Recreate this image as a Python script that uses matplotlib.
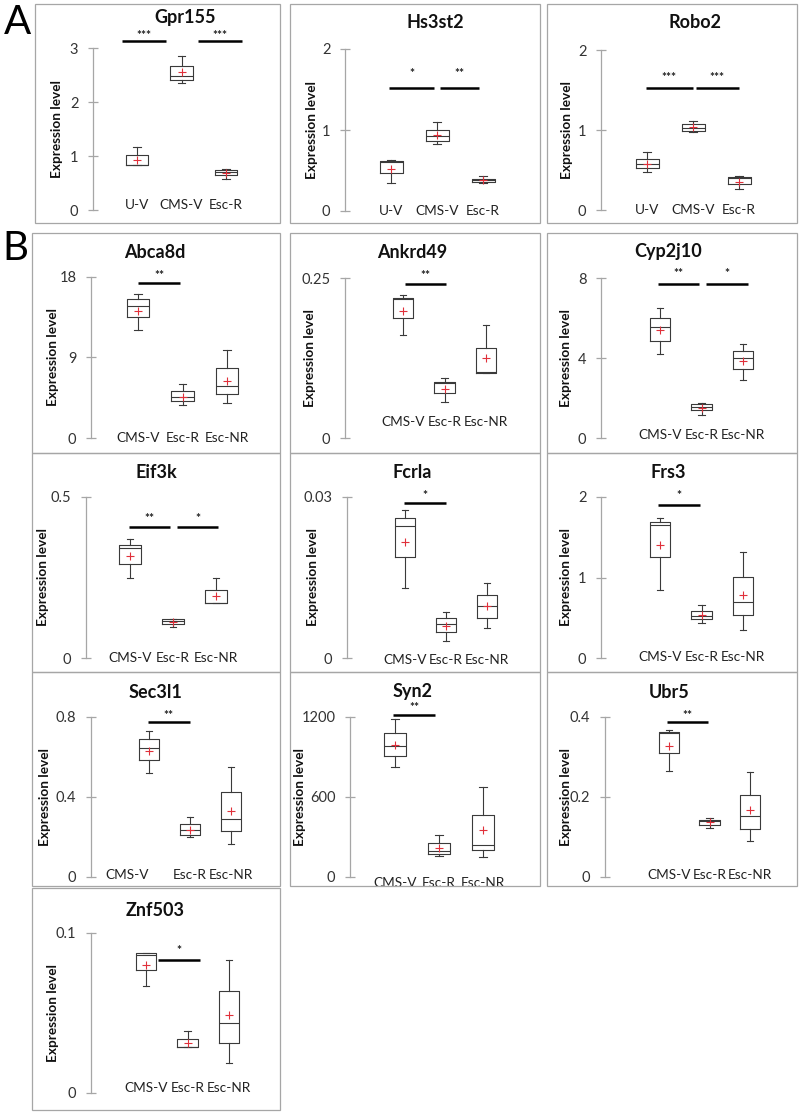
import matplotlib
matplotlib.use('Agg')
import matplotlib.pyplot as plt
from matplotlib.patches import Rectangle

plt.rcParams['font.family'] = ['Lato', 'DejaVu Sans']

W, H = 799, 1116

genes = ['Gpr155', 'Hs3st2', 'Robo2', 'Abca8d', 'Ankrd49', 'Cyp2j10', 'Eif3k',
         'Fcrla', 'Frs3', 'Sec3l1', 'Syn2', 'Ubr5', 'Znf503']
groups_A = ['U-V', 'CMS-V', 'Esc-R']
groups_B = ['CMS-V', 'Esc-R', 'Esc-NR']

y_ticks = [[0, 1, 2, 3], [0, 1, 2], [0, 1, 2], [0, 9, 18], [0, 0.25], [0, 4, 8],
           [0, 0.5], [0, 0.03], [0, 1, 2], [0, 0.4, 0.8], [0, 600, 1200],
           [0, 0.2, 0.4], [0, 0.1]]

whis_lo = [[0.83, 2.35, 0.58], [0.35, 0.83, 0.35], [0.48, 0.97, 0.26],
           [12.1, 3.7, 3.88], [0.161, 0.057, 0.101], [4.18, 1.15, 2.89],
           [0.250, 0.095, 0.170], [0.0131, 0.0032, 0.0056], [0.84, 0.44, 0.35],
           [0.518, 0.200, 0.165], [825, 160, 150], [0.264, 0.1225, 0.091],
           [0.067, 0.029, 0.019]]
q1 = [[0.83, 2.41, 0.64], [0.47, 0.87, 0.36], [0.52, 0.99, 0.33],
      [13.5, 4.14, 4.93], [0.188, 0.070, 0.101], [4.85, 1.39, 3.44],
      [0.293, 0.107, 0.170], [0.0188, 0.0048, 0.0075], [1.25, 0.48, 0.53],
      [0.583, 0.212, 0.228], [905, 175, 200], [0.31, 0.131, 0.121],
      [0.077, 0.029, 0.031]]
median = [[0.84, 2.48, 0.70], [0.60, 0.92, 0.38], [0.57, 1.03, 0.40],
          [14.8, 4.63, 5.86], [0.2175, 0.0856, 0.103], [5.54, 1.56, 4.02],
          [0.342, 0.114, 0.170], [0.0246, 0.0063, 0.0096], [1.65, 0.52, 0.69],
          [0.647, 0.233, 0.292], [985, 192, 242], [0.36, 0.139, 0.152],
          [0.086, 0.029, 0.044]]
q3 = [[1.01, 2.67, 0.74], [0.62, 1.00, 0.40], [0.64, 1.07, 0.41],
      [15.5, 5.3, 7.8], [0.219, 0.088, 0.141], [6.0, 1.68, 4.33],
      [0.351, 0.121, 0.211], [0.0260, 0.0074, 0.0117], [1.69, 0.59, 1.01],
      [0.69, 0.265, 0.423], [1080, 255, 462], [0.362, 0.143, 0.206],
      [0.0875, 0.034, 0.064]]
whis_hi = [[1.16, 2.85, 0.76], [0.63, 1.10, 0.43], [0.73, 1.11, 0.43],
           [16.1, 6.0, 9.85], [0.224, 0.094, 0.177], [6.5, 1.73, 4.68],
           [0.370, 0.121, 0.250], [0.0275, 0.0086, 0.0139], [1.74, 0.66, 1.32],
           [0.732, 0.30, 0.55], [1185, 312, 675], [0.367, 0.1475, 0.2625],
           [0.0875, 0.039, 0.083]]
means = [[0.93, 2.56, 0.68], [0.52, 0.94, 0.38], [0.58, 1.04, 0.35],
         [14.25, 4.6, 6.4], [0.199, 0.076, 0.1255], [5.38, 1.48, 3.83],
         [0.316, 0.112, 0.194], [0.0216, 0.0059, 0.0096], [1.40, 0.535, 0.78],
         [0.628, 0.237, 0.328], [988, 218, 352], [0.328, 0.1375, 0.167],
         [0.080, 0.031, 0.049]]

# significance bars: (x start, x end, bar y, star y, label)
sig = [
    [(-0.33, 0.65, 3.13, 3.24, '***'), (1.37, 2.35, 3.13, 3.24, '***')],
    [(-0.04, 0.94, 1.52, 1.70, '*'), (1.06, 1.92, 1.52, 1.70, '**')],
    [(-0.02, 0.99, 1.525, 1.66, '***'), (1.07, 1.99, 1.525, 1.66, '***')],
    [(0.0, 0.95, 17.3, 18.2, '**')],
    [(0.06, 1.04, 0.241, 0.254, '**')],
    [(-0.04, 0.95, 7.7, 8.2, '**'), (1.12, 2.12, 7.7, 8.2, '*')],
    [(-0.02, 0.94, 0.407, 0.433, '**'), (1.1, 2.05, 0.407, 0.433, '*')],
    [(-0.02, 1.0, 0.0288, 0.0302, '*')],
    [(-0.04, 0.97, 1.90, 2.02, '*')],
    [(-0.03, 0.99, 0.775, 0.81, '**')],
    [(-0.04, 0.91, 1218, 1272, '**')],
    [(-0.04, 0.97, 0.3875, 0.404, '**')],
    [(0.3, 1.3, 0.083, 0.089, '*')],
]

# layout in pixels: panel box, axis x, first box x, spacing, top tick y, zero y,
# title x, title y, category label offset, y-label distance from axis
layout = {
    'Gpr155':  ((35, 4, 280, 223), 93, 137, 44.5, 48, 210, 185, 18, 5, 36),
    'Hs3st2':  ((290, 4, 540, 223), 345, 391, 46, 49, 211, 435, 23, 0, 33),
    'Robo2':   ((547, 4, 797, 223), 601, 647, 46, 50, 210, 695, 23, 0, 34),
    'Abca8d':  ((32, 233, 280, 453), 91, 138, 44.5, 277, 438, 155, 252, 0, 38),
    'Ankrd49': ((290, 233, 540, 453), 345, 403, 41.5, 278, 438, 412, 252, 16, 35),
    'Cyp2j10': ((547, 233, 797, 453), 601, 660, 41.5, 278, 438, 668, 252, 3, 35),
    'Eif3k':   ((32, 453, 280, 672), 86, 130, 43, 497, 658, 156, 472, 0, 43),
    'Fcrla':   ((290, 453, 540, 672), 347, 405, 41, 497, 658, 412, 472, -2, 34),
    'Frs3':    ((547, 453, 797, 672), 601, 660, 41.5, 497, 658, 668, 472, 1, 35),
    'Sec3l1':  ((32, 672, 280, 886), 91, 149, 41, 717, 877, 155, 692, 2, 46),
    'Syn2':    ((290, 672, 540, 886), 350, 395, 44, 717, 877, 413, 692, -6, 50),
    'Ubr5':    ((547, 672, 797, 886), 605, 669, 40.5, 717, 877, 669, 692, 2, 39),
    'Znf503':  ((32, 888, 280, 1110), 91, 146, 41.5, 933, 1093, 155, 910, 5, 38),
}

GRAY = '#a6a6a6'
BOXC = '#3a3a3a'


def fx(px):
    return px / W


def fy(py):
    return 1 - py / H


fig = plt.figure(figsize=(W / 100, H / 100), dpi=100)

for k, g in enumerate(genes):
    box, axx, c0, sp, yt, y0, tx, ty, loff, ylx = layout[g]
    x0p, y0p, x1p, y1p = box
    fig.patches.append(Rectangle((fx(x0p), fy(y1p)), fx(x1p - x0p), (y1p - y0p) / H,
                                 transform=fig.transFigure, fill=False,
                                 edgecolor=GRAY, lw=0.9))
    right = x1p - 3
    ax = fig.add_axes([fx(axx), fy(y0), fx(right - axx), (y0 - yt) / H])
    ax.patch.set_alpha(0)
    ax.set_xlim((axx - c0) / sp, (right - c0) / sp)
    ymax = y_ticks[k][-1]
    ax.set_ylim(0, ymax)

    stats = []
    for i in range(3):
        stats.append(dict(whislo=whis_lo[k][i], q1=q1[k][i], med=median[k][i],
                          q3=q3[k][i], whishi=whis_hi[k][i], mean=means[k][i]))
    ax.bxp(stats, positions=[0, 1, 2], widths=0.5, showmeans=True, showfliers=False,
           manage_ticks=False, capwidths=0.16,
           boxprops=dict(color=BOXC, lw=0.8),
           whiskerprops=dict(color=BOXC, lw=0.8),
           capprops=dict(color=BOXC, lw=0.8),
           medianprops=dict(color=BOXC, lw=0.8),
           meanprops=dict(marker='+', markeredgecolor='#e0303a', markersize=6,
                          markeredgewidth=0.8))

    for s in ['top', 'right', 'bottom']:
        ax.spines[s].set_visible(False)
    ax.spines['left'].set_color(GRAY)
    ax.spines['left'].set_linewidth(0.9)
    ax.set_xticks([])
    ax.set_yticks(y_ticks[k], ['{:g}'.format(v) for v in y_ticks[k]])
    ax.tick_params(axis='y', direction='inout', length=7, width=0.9, color=GRAY,
                   labelcolor='#333333', labelsize=10.5, pad=7)

    groups = groups_A if k < 3 else groups_B
    for i, name in enumerate(groups):
        dx = -0.54 if (g == 'Sec3l1' and i == 0) else 0
        ax.annotate(name, (i + dx, 0), xytext=(0, loff * 0.72), textcoords='offset points',
                    ha='center', va='center', fontsize=9.8, color='#222222',
                    annotation_clip=False)

    for (sx0, sx1, sy, stary, lab) in sig[k]:
        ax.plot([sx0, sx1], [sy, sy], color='black', lw=1.8, clip_on=False,
                solid_capstyle='butt')
        ax.text((sx0 + sx1) / 2, stary, lab, ha='center', va='center',
                fontsize=8.5, fontweight='bold', color='#222222', clip_on=False)

    fig.text(fx(tx), fy(ty), g, ha='center', va='center', fontsize=13,
             fontweight='bold', color='#111111')
    fig.text(fx(axx - ylx), fy((yt + y0) / 2), 'Expression level', rotation=90,
             ha='center', va='center', fontsize=9.8, fontweight='bold', color='#111111')

fig.text(fx(17), fy(22), 'A', ha='center', va='center', fontsize=29)
fig.text(fx(15), fy(248), 'B', ha='center', va='center', fontsize=29)

fig.savefig('out.png', dpi=100)
